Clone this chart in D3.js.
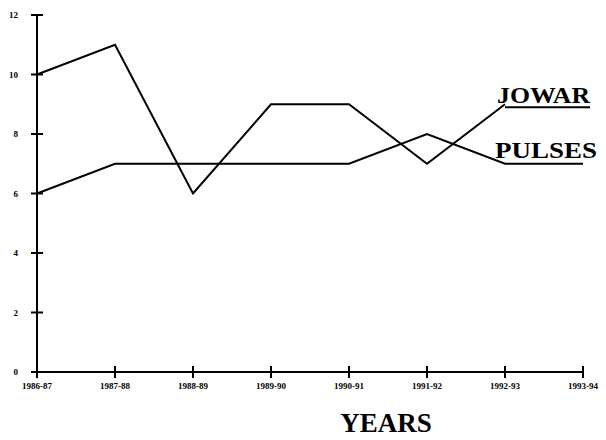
<!DOCTYPE html>
<html>
<head>
<meta charset="utf-8">
<script src="https://cdn.jsdelivr.net/npm/d3@7"></script>
<style>
  html, body { margin: 0; padding: 0; background: #fff; }
  svg { display: block; }
</style>
</head>
<body>
<div id="chart"></div>
<script>
const years = ["1986-87", "1987-88", "1988-89", "1989-90", "1990-91", "1991-92", "1992-93", "1993-94"];
const jowar = [10, 11, 6, 9, 9, 7, 9];
const pulses = [6, 7, 7, 7, 7, 8, 7, 7];
const yTicks = [0, 2, 4, 6, 8, 10, 12];
const seriesNames = ["JOWAR", "PULSES"];

const W = 606, H = 440;
const svg = d3.select("#chart").append("svg").attr("width", W).attr("height", H);

const x = d3.scalePoint().domain(years).range([37, 583]);
const y = d3.scaleLinear().domain([0, 12]).range([372, 15]);

const serif = "'Liberation Serif', 'Times New Roman', serif";

// axes
svg.append("line").attr("x1", x(years[0])).attr("x2", x(years[0]))
  .attr("y1", y(0)).attr("y2", y(12)).attr("stroke", "#000").attr("stroke-width", 2);
svg.append("line").attr("x1", x(years[0])).attr("x2", x(years[years.length - 1]))
  .attr("y1", y(0)).attr("y2", y(0)).attr("stroke", "#000").attr("stroke-width", 2);

// y ticks
yTicks.forEach(t => {
  svg.append("line").attr("x1", x(years[0]) - 6).attr("x2", x(years[0]) + 6)
    .attr("y1", y(t)).attr("y2", y(t)).attr("stroke", "#000").attr("stroke-width", 2);
  svg.append("text").attr("x", 18).attr("y", y(t)).attr("dy", "0.35em")
    .attr("text-anchor", "end").attr("font-family", serif).attr("font-weight", "bold")
    .attr("font-size", 9).attr("fill", "#000").text(t);
});

// x ticks
years.forEach(yr => {
  svg.append("line").attr("x1", x(yr)).attr("x2", x(yr))
    .attr("y1", y(0) - 6).attr("y2", y(0) + 6).attr("stroke", "#000").attr("stroke-width", 2);
  svg.append("text").attr("x", x(yr)).attr("y", 389)
    .attr("text-anchor", "middle").attr("font-family", serif).attr("font-weight", "bold")
    .attr("font-size", 9).attr("fill", "#000").text(yr);
});

const line = d3.line().x((d, i) => x(years[i])).y(d => y(d));

svg.append("path").datum(jowar).attr("d", line)
  .attr("fill", "none").attr("stroke", "#000").attr("stroke-width", 2).attr("stroke-linejoin", "miter");
svg.append("path").datum(pulses).attr("d", line)
  .attr("fill", "none").attr("stroke", "#000").attr("stroke-width", 2).attr("stroke-linejoin", "miter");

// JOWAR label with underline
const jx = x(years[jowar.length - 1]);
const jy = y(jowar[jowar.length - 1]);
svg.append("line").attr("x1", jx).attr("x2", 590).attr("y1", jy + 3).attr("y2", jy + 3)
  .attr("stroke", "#000").attr("stroke-width", 2);
svg.append("text").attr("x", 497).attr("y", jy - 1)
  .attr("font-family", serif).attr("font-weight", "bold").attr("font-size", 24)
  .attr("textLength", 93).attr("lengthAdjust", "spacingAndGlyphs")
  .text(seriesNames[0]);

// PULSES label
svg.append("text").attr("x", 495).attr("y", y(7) - 6)
  .attr("font-family", serif).attr("font-weight", "bold").attr("font-size", 23)
  .attr("textLength", 102).attr("lengthAdjust", "spacingAndGlyphs")
  .text(seriesNames[1]);

// axis title
svg.append("text").attr("x", 386).attr("y", 432).attr("text-anchor", "middle")
  .attr("font-family", serif).attr("font-weight", "bold").attr("font-size", 27)
  .text("YEARS");
</script>
</body>
</html>
